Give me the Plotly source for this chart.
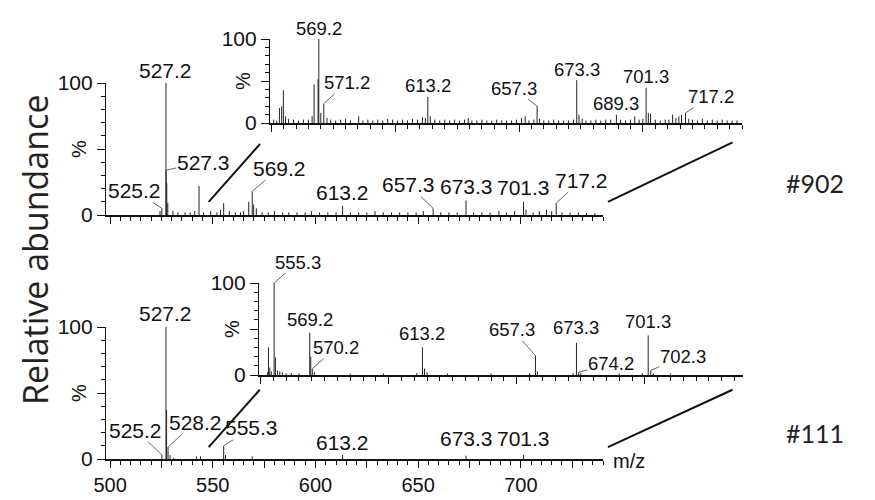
import plotly.graph_objects as go

# ---------------- data ----------------
# Sample #902, full scan (m/z, relative abundance %)
top_main_mz = [524.3, 525.2, 527.2, 527.3, 527.6, 528.1, 530.6, 533.0, 536.5, 539.0, 541.2, 543.3,
               545.5, 549.0, 552.0, 553.8, 555.3, 558.0, 561.0, 563.5, 565.0, 567.5, 569.2, 569.9,
               571.2, 574.0, 577.0, 580.0, 584.0, 587.0, 591.0, 595.0, 598.0, 602.0, 606.0, 610.0,
               613.2, 617.0, 621.0, 625.0, 629.0, 633.0, 637.0, 641.0, 645.0, 649.0, 652.5, 657.3,
               661.0, 665.0, 669.0, 673.3, 677.0, 681.0, 685.0, 689.3, 693.0, 697.0, 701.3, 702.5,
               706.0, 709.0, 712.5, 715.0, 717.2, 720.0, 724.0, 728.0, 732.0, 736.0]
top_main_ab = [3, 5, 100, 34, 24, 9, 3, 2, 2, 2, 3, 22,
               2, 3, 2, 4, 9, 3, 2, 2, 3, 10, 18, 8,
               5, 2, 2, 3, 2, 2, 2, 2, 3, 2, 2, 2,
               7, 2, 2, 2, 3, 2, 2, 2, 2, 2, 3, 5,
               2, 2, 2, 11, 2, 2, 2, 3, 2, 3, 10, 4,
               2, 3, 4, 3, 9, 2, 2, 2, 1.5, 1.5]

# Sample #902, zoomed region 550-740
top_zoom_mz = [551.0, 552.2, 553.3, 554.2, 554.9, 555.8, 557.0, 559.0, 561.0, 563.0, 565.0, 566.5,
               567.3, 568.9, 569.2, 570.0, 571.2, 572.5, 574.0, 576.0, 578.0, 580.0, 582.0, 585.3,
               587.0, 589.0, 591.0, 593.0, 595.0, 597.0, 599.0, 601.0, 603.0, 605.0, 607.0, 609.0,
               611.0, 612.2, 613.2, 614.2, 616.0, 618.0, 620.0, 622.0, 624.0, 626.0, 628.0, 629.5,
               631.0, 633.0, 635.0, 637.0, 639.0, 641.0, 643.0, 645.0, 647.0, 649.0, 651.0, 652.5,
               654.0, 656.0, 657.3, 658.3, 660.0, 662.0, 664.0, 666.0, 668.0, 670.0, 672.0, 673.3,
               674.2, 675.5, 677.0, 679.0, 681.0, 683.0, 685.0, 687.0, 689.3, 691.0, 693.0, 695.0,
               696.7, 698.5, 700.0, 701.3, 702.2, 703.1, 705.0, 707.0, 709.0, 710.5, 712.0, 713.3,
               714.5, 715.6, 717.2, 718.5, 720.0, 722.0, 724.0, 726.0, 728.0, 730.0, 732.0, 734.0,
               736.0, 738.0]
top_zoom_ab = [4, 3, 18, 20, 39, 8, 5, 4, 3, 4, 4, 8,
               46, 52, 100, 12, 23, 6, 4, 3, 4, 5, 3, 8,
               3, 4, 3, 4, 3, 5, 4, 3, 4, 3, 5, 4,
               7, 6, 31, 8, 4, 3, 4, 3, 4, 3, 4, 6,
               3, 3, 4, 3, 3, 4, 3, 3, 3, 4, 6, 8,
               3, 4, 20, 5, 3, 3, 4, 3, 3, 3, 4, 51,
               10, 5, 3, 3, 4, 3, 4, 4, 10, 4, 3, 4,
               8, 4, 5, 42, 12, 11, 4, 3, 4, 4, 10, 6,
               8, 10, 12, 5, 4, 3, 5, 3, 4, 3, 4, 3,
               3, 3]

# Sample #111, full scan
bot_main_mz = [525.2, 527.2, 527.5, 528.2, 529.2, 531.0, 542.0, 544.0, 555.3, 556.2, 569.2, 613.2,
               673.3, 701.3]
bot_main_ab = [3, 100, 37, 9, 3, 1, 2, 2, 10, 3, 2, 3,
               2.5, 3]

# Sample #111, zoomed region 550-740
bot_zoom_mz = [552.8, 553.1, 553.6, 554.2, 555.3, 555.8, 556.6, 557.5, 558.5, 560.0, 562.0, 565.0,
               569.2, 569.6, 570.2, 571.0, 585.0, 598.0, 611.0, 613.2, 614.0, 615.0, 623.0, 640.0,
               655.0, 657.3, 658.0, 672.0, 673.3, 674.2, 675.0, 690.0, 699.0, 701.3, 702.3, 703.3,
               710.0]
bot_zoom_ab = [3, 30, 8, 4, 100, 19, 5, 4, 3, 2, 2, 1.5,
               46, 20, 7, 3, 1.5, 1.5, 2, 30, 7, 3, 1.5, 1.5,
               2, 21, 4, 2, 35, 3, 2, 1.5, 2, 43, 5, 2,
               1.5]

# peak labels: (text, m/z, abundance the label points to)
top_main_labels = [("527.2", 527.2, 100), ("525.2", 525.2, 5), ("527.3", 527.3, 34), ("569.2", 569.2, 18),
                   ("613.2", 613.2, 7), ("657.3", 657.3, 5), ("673.3", 673.3, 11), ("701.3", 701.3, 10),
                   ("717.2", 717.2, 9)]
top_zoom_labels = [("569.2", 569.2, 100), ("571.2", 571.2, 23), ("613.2", 613.2, 31), ("657.3", 657.3, 20),
                   ("673.3", 673.3, 51), ("689.3", 689.3, 10), ("701.3", 701.3, 42), ("717.2", 717.2, 12)]
bot_main_labels = [("527.2", 527.2, 100), ("525.2", 525.2, 3), ("528.2", 528.2, 9), ("555.3", 555.3, 10),
                   ("613.2", 613.2, 3), ("673.3", 673.3, 2.5), ("701.3", 701.3, 3)]
bot_zoom_labels = [("555.3", 555.3, 100), ("569.2", 569.2, 46), ("570.2", 570.2, 7), ("613.2", 613.2, 30),
                   ("657.3", 657.3, 21), ("673.3", 673.3, 35), ("674.2", 674.2, 3), ("701.3", 701.3, 43),
                   ("702.3", 702.3, 5)]

x_tick_vals = [500, 525, 550, 575, 600, 625, 650, 675, 700, 725]
x_tick_text = ["500", "", "550", "", "600", "", "650", "", "700", ""]
y_tick_vals = [0, 50, 100]
y_tick_text = ["0", "", "100"]

# ---------------- layout / style ----------------
W, H = 875, 500
PAGE_OFFSET = 8   # the html body margin shifts the figure by this many px on screen
MAIN_RANGE = [498, 740]
TOP_ZOOM_RANGE = [549.5, 740]
BOT_ZOOM_RANGE = [549.4, 738.3]

# screen pixel boxes: (x_left, x_right), (y_bottom, y_top)
BOX = {
    "1": ((106, 603), (215, 83)),    # #902 full
    "2": ((270, 742), (123, 39)),    # #902 zoom
    "3": ((106, 603), (459, 327)),   # #111 full
    "4": ((259, 743), (375, 283)),   # #111 zoom
}
RANGES = {"1": MAIN_RANGE, "2": TOP_ZOOM_RANGE, "3": MAIN_RANGE, "4": BOT_ZOOM_RANGE}

# label placement styles: offset (dx, dy) in px of label centre from the peak point, leader line flag
top_main_style = [(0, -13, False), (-27, -18, True), (37, -8, True), (27, -23, True), (0, -13, False),
                  (-25, -24, True), (0, -14, False), (0, -14, False), (25, -23, True)]
top_zoom_style = [(0, -11, False), (23, -21, True), (0, -11, False), (-23, -18, True), (0, -11, False),
                  (0, -11, False), (0, -11, False), (25, -16, True)]
bot_main_style = [(0, -14, False), (-26, -25, True), (27, -25, True), (28, -18, True), (0, -13, False),
                  (0, -17, False), (0, -17, False)]
bot_zoom_style = [(24, -21, True), (0, -13, False), (24, -21, True), (0, -14, False), (-23, -26, True),
                  (0, -15, False), (32, -9, True), (0, -14, False), (32, -14, True)]

FONT = "Liberation Sans, Arial, sans-serif"
INK = "#111111"


def px2paper_x(px):
    return (px - PAGE_OFFSET) / W


def px2paper_y(py):
    return 1 - (py - PAGE_OFFSET) / H


def sticks(mz, ab):
    xs, ys = [], []
    for m, a in zip(mz, ab):
        xs += [m, m, None]
        ys += [0, a, None]
    return xs, ys


def data2px(key, mz, ab):
    (xl, xr), (yb, yt) = BOX[key]
    r = RANGES[key]
    px = xl + (mz - r[0]) / (r[1] - r[0]) * (xr - xl)
    py = yb + ab / 100.0 * (yt - yb)
    return px, py


fig = go.Figure()

series = [("1", top_main_mz, top_main_ab), ("2", top_zoom_mz, top_zoom_ab),
          ("3", bot_main_mz, bot_main_ab), ("4", bot_zoom_mz, bot_zoom_ab)]
for key, mz, ab in series:
    xs, ys = sticks(mz, ab)
    suffix = "" if key == "1" else key
    fig.add_trace(go.Scatter(x=xs, y=ys, mode="lines", line=dict(color="#222222", width=1),
                             xaxis="x" + suffix, yaxis="y" + suffix, showlegend=False,
                             hoverinfo="skip"))

layout = dict(width=W, height=H, margin=dict(l=0, r=0, t=0, b=0, pad=0, autoexpand=False),
              paper_bgcolor="white", plot_bgcolor="rgba(0,0,0,0)", showlegend=False)

for key in ["1", "2", "3", "4"]:
    (xl, xr), (yb, yt) = BOX[key]
    suffix = "" if key == "1" else key
    show_x_labels = key == "3"
    main = key in ("1", "3")
    layout["xaxis" + suffix] = dict(
        domain=[px2paper_x(xl), px2paper_x(xr)], range=RANGES[key], anchor="y" + suffix,
        automargin=False,
        showgrid=False, zeroline=False, showline=True, linecolor=INK, linewidth=2 if main else 1.6,
        ticks="outside", ticklen=7, tickwidth=1.2, tickcolor=INK,
        tickmode="array", tickvals=x_tick_vals, ticktext=x_tick_text,
        showticklabels=show_x_labels, tickfont=dict(family=FONT, size=20, color=INK),
        minor=dict(tickmode="linear", tick0=500, dtick=5, ticks="outside", ticklen=4,
                   tickwidth=1, tickcolor=INK, showgrid=False),
    )
    layout["yaxis" + suffix] = dict(
        domain=[px2paper_y(yb), px2paper_y(yt)], range=[0, 100], anchor="x" + suffix,
        automargin=False,
        showgrid=False, zeroline=False, showline=True, linecolor=INK, linewidth=1.2,
        ticks="outside", ticklen=8, tickwidth=1.2, tickcolor=INK,
        tickmode="array", tickvals=y_tick_vals, ticktext=y_tick_text,
        tickfont=dict(family=FONT, size=21, color=INK),
        minor=dict(tickmode="linear", tick0=0, dtick=10, ticks="outside", ticklen=4,
                   tickwidth=1, tickcolor=INK, showgrid=False),
    )

fig.update_layout(**layout)

annotations = []
# peak labels
label_sets = [("1", top_main_labels, top_main_style, 21),
              ("2", top_zoom_labels, top_zoom_style, 18.5),
              ("3", bot_main_labels, bot_main_style, 21),
              ("4", bot_zoom_labels, bot_zoom_style, 18.5)]
for key, labels, styles, fs in label_sets:
    suffix = "" if key == "1" else key
    for (txt, mz, ab), (dx, dy, leader) in zip(labels, styles):
        a = dict(x=mz, y=ab, xref="x" + suffix, yref="y" + suffix, text=txt,
                 font=dict(family=FONT, size=fs, color=INK))
        if leader:
            a.update(showarrow=True, arrowhead=0, arrowwidth=1, arrowcolor="#666666",
                     ax=dx, ay=dy, axref="pixel", ayref="pixel", standoff=0, borderpad=0)
        else:
            a.update(showarrow=False, xshift=dx, yshift=-dy, xanchor="center", yanchor="middle")
        annotations.append(a)

# "%" axis titles
for key in ["1", "2", "3", "4"]:
    suffix = "" if key == "1" else key
    annotations.append(dict(x=0, y=0.5, xref="x" + suffix + " domain", yref="y" + suffix + " domain",
                            xshift=-27, text="%", showarrow=False, textangle=-90,
                            font=dict(family=FONT, size=20, color=INK),
                            xanchor="center", yanchor="middle"))

annotations += [
    dict(x=px2paper_x(35), y=px2paper_y(250), xref="paper", yref="paper", text="Relative abundance",
         showarrow=False, textangle=-90, font=dict(family="Open Sans, Lato, sans-serif", size=34, color="#222222"),
         xanchor="center", yanchor="middle"),
    dict(x=px2paper_x(815), y=px2paper_y(183), xref="paper", yref="paper", text="#902",
         showarrow=False, font=dict(family="Lato, Open Sans, sans-serif", size=25, color="#222222"),
         xanchor="center", yanchor="middle"),
    dict(x=px2paper_x(815), y=px2paper_y(433), xref="paper", yref="paper", text="#111",
         showarrow=False, font=dict(family="Lato, Open Sans, sans-serif", size=25, color="#222222"),
         xanchor="center", yanchor="middle"),
    dict(x=px2paper_x(611), y=px2paper_y(461), xref="paper", yref="paper", text="m/z",
         showarrow=False, font=dict(family=FONT, size=20, color=INK), xanchor="left", yanchor="middle"),
]
fig.update_layout(annotations=annotations)

# connector lines between full-scan axis and zoom inset: (main key, main m/z, main %, zoom key, zoom m/z, zoom %)
connectors = [("1", 548, 10, "2", 545.5, -25), ("1", 742.4, 10, "2", 736.2, -23),
              ("3", 548, 9, "4", 549.7, -16), ("3", 742.4, 9, "4", 734.2, -16)]
shapes = []
for mk, mmz, mab, zk, zmz, zab in connectors:
    x0, y0 = data2px(mk, mmz, mab)
    x1, y1 = data2px(zk, zmz, zab)
    shapes.append(dict(type="line", xref="paper", yref="paper",
                       x0=px2paper_x(x0), y0=px2paper_y(y0), x1=px2paper_x(x1), y1=px2paper_y(y1),
                       line=dict(color=INK, width=2)))
fig.update_layout(shapes=shapes)

fig.write_html("out.html")
